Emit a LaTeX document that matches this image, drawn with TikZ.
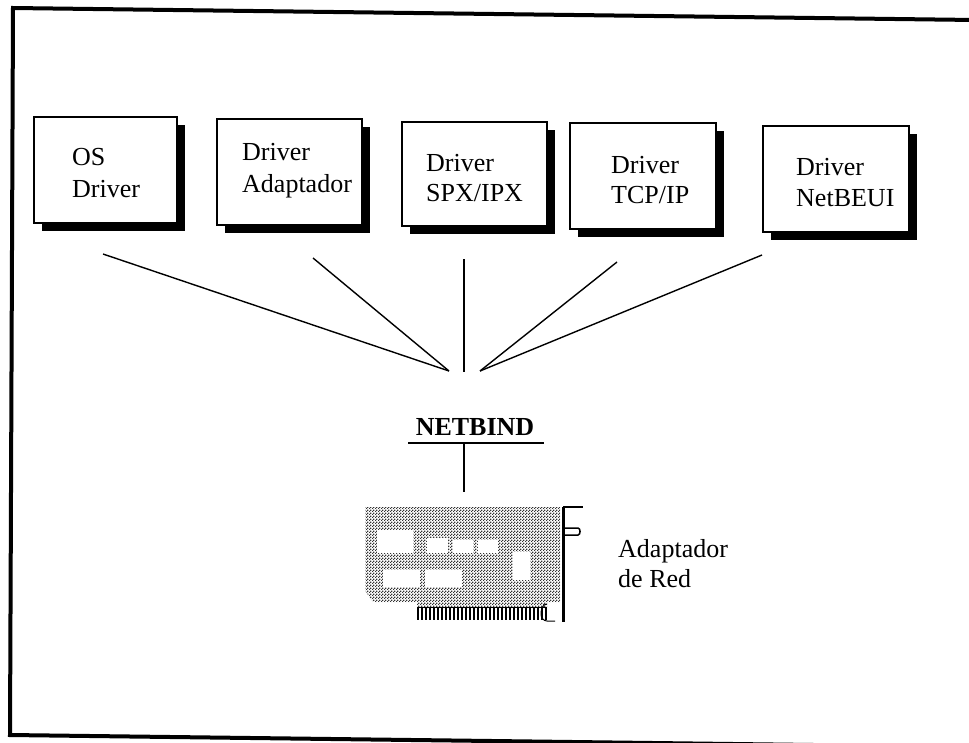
\documentclass[tikz,border=0pt]{standalone}
\usepackage{fontspec}
\setmainfont{Liberation Serif}
\usetikzlibrary{shadows,patterns}
% 50% checkerboard used as the board's halftone
\pgfdeclarepatternformonly{halftone}{\pgfpointorigin}{\pgfpoint{3pt}{3pt}}{\pgfpoint{3pt}{3pt}}{%
  \pgfpathrectangle{\pgfpointorigin}{\pgfpoint{1.5pt}{1.5pt}}%
  \pgfpathrectangle{\pgfpoint{1.5pt}{1.5pt}}{\pgfpoint{1.5pt}{1.5pt}}%
  \pgfusepath{fill}}
\begin{document}
\begin{tikzpicture}[x=1pt,y=-1pt,
  drvbox/.style={draw=black, line width=1.3pt, fill=white, inner sep=0pt,
    drop shadow={shadow xshift=8pt, shadow yshift=-8pt, fill=black, opacity=1}},
  drvtext/.style={font=\fontsize{26}{32}\selectfont, align=left, anchor=base west, inner sep=0pt},
  link/.style={line width=1.4pt},
  frameline/.style={line width=4pt},
  chip/.style={fill=white},
]
\useasboundingbox (0,0) rectangle (969,742);

% outer frame, open on the right
\coordinate (ftl) at (13,8);
\coordinate (ftr) at (975,20);
\coordinate (fbl) at (10,735);
\coordinate (fbr) at (975,747);
\draw[frameline] (ftr) -- (ftl) -- (fbl) -- (fbr);

% protocol driver boxes
\node[drvbox, minimum width=143pt, minimum height=106pt] (b1) at (105.5,170) {};
\node[drvbox, minimum width=145pt, minimum height=106pt] (b2) at (289.5,172) {};
\node[drvbox, minimum width=145pt, minimum height=104pt] (b3) at (474.5,174) {};
\node[drvbox, minimum width=146pt, minimum height=106pt] (b4) at (643,176) {};
\node[drvbox, minimum width=146pt, minimum height=106pt] (b5) at (836,179) {};

% the base anchor of a two-line node sits on its second line
\node[drvtext] (t1) at (72,197) {OS\\Driver};
\node[drvtext] (t2) at (242,192) {Driver\\Adaptador};
\node[drvtext, font=\fontsize{26}{30}\selectfont] (t3) at (426,201) {Driver\\SPX/IPX};
\node[drvtext, font=\fontsize{26}{30}\selectfont] (t4) at (611,203) {Driver\\TCP/IP};
\node[drvtext, font=\fontsize{26}{31}\selectfont] (t5) at (796,206) {Driver\\NetBEUI};

% fan of links into NETBIND
\coordinate (s1) at (103,254);
\coordinate (s2) at (313,258);
\coordinate (s3) at (464,259);
\coordinate (s4) at (617,262);
\coordinate (s5) at (762,255);
\coordinate (jl) at (449,371);
\coordinate (jm) at (464,372);
\coordinate (jr) at (480,371);
\draw[link] (s1) -- (jl);
\draw[link] (s2) -- (jl);
\draw[link] (s3) -- (jm);
\draw[link] (s4) -- (jr);
\draw[link] (s5) -- (jr);

% NETBIND label with rule and drop to the adapter
\node[font=\fontsize{26}{32}\selectfont\bfseries, anchor=base, inner sep=0pt] (nb) at (475,435) {NETBIND};
\coordinate (ul) at (408,443);
\coordinate (ur) at (544,443);
\coordinate (um) at (464,443);
\coordinate (ub) at (464,492);
\draw[link] (ul) -- (ur);
\draw[link] (um) -- (ub);

% network adapter card, halftone board
\path[fill=white, pattern=halftone, pattern color=black!80]
  (365,507) -- (560,507) -- (560,602) -- (547,602) -- (547,608)
  -- (417,608) -- (417,602) -- (375,602) to[out=180,in=90] (365,592) -- cycle;
\fill[chip] (377,530) rectangle (413,553);
\fill[chip] (427,538) rectangle (448,553);
\fill[chip] (453,540) rectangle (473,553);
\fill[chip] (478,540) rectangle (498,553);
\fill[chip] (513,552) rectangle (530,580);
\fill[chip] (383,570) rectangle (420,587);
\fill[chip] (425,570) rectangle (462,587);
% edge connector fingers
\foreach \fx in {418,422,...,546} \draw[line width=1.2pt] (\fx,607) -- (\fx,620);
\draw[line width=1pt] (417,607) -- (547,607);
\draw[line width=1pt] (547,604) to[out=180,in=90] (541,614) to[out=-90,in=180] (547,621) -- (555,621);
% mounting bracket
\draw[line width=3pt] (563,507) -- (563,622);
\draw[line width=1.5pt] (563,507) -- (583,507);
\draw[line width=1.5pt] (563,528) -- (578,528) to[out=0,in=0] (578,535) -- (563,535);

\node[drvtext, font=\fontsize{26}{30}\selectfont] (t6) at (618,587) {Adaptador\\de Red};
\end{tikzpicture}
\end{document}
